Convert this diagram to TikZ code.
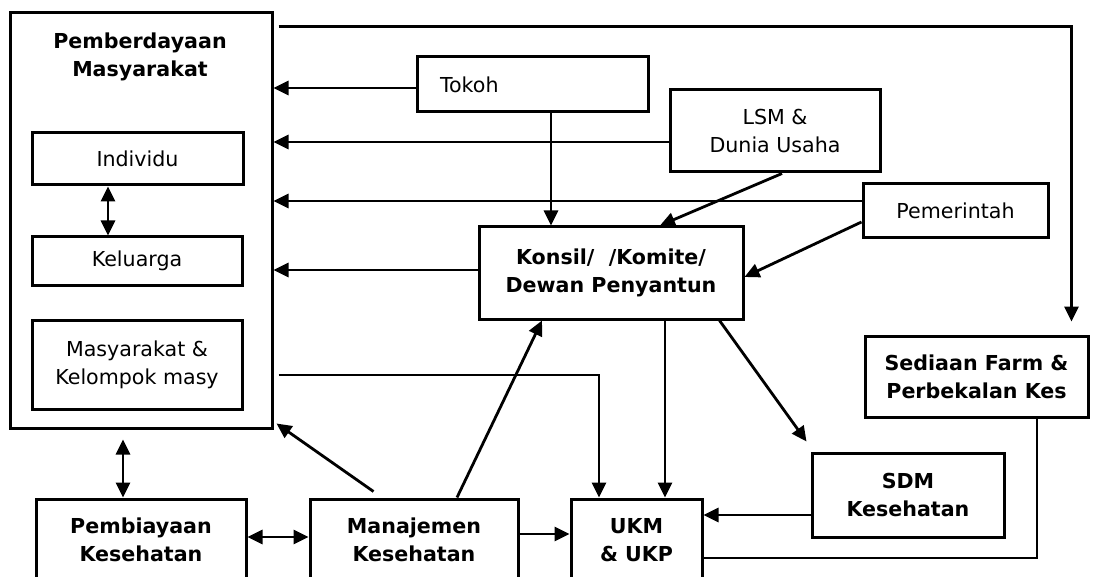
\documentclass[tikz,border=0pt]{standalone}
\usepackage{fontspec}
\setmainfont{DejaVu Sans}
\usetikzlibrary{arrows.meta}

\begin{document}
\begin{tikzpicture}[x=0.5pt,y=-0.5pt,
  box/.style={draw=drawColor,line width=1.5pt,inner sep=0pt,align=center,font=\fontsize{10.3}{14}\selectfont},
  boldbox/.style={box,font=\fontsize{10.3}{14}\selectfont\bfseries},
  link/.style={draw=drawColor,line width=1.4pt},
  arr/.style={link,-{Triangle[length=7.5pt,width=7pt]}},
  dblarr/.style={link,{Triangle[length=7.5pt,width=7pt]}-{Triangle[length=7.5pt,width=7pt]}}]
\definecolor{fillColor}{RGB}{255,255,255}
\definecolor{drawColor}{RGB}{0,0,0}
\path[use as bounding box,fill=fillColor] (0,0) rectangle (1097,577);
\begin{scope}
\path[clip] (0,0) rectangle (1097,577);

\node[box,minimum width=131pt,minimum height=207.5pt] (pm) at (141,220.5) {};
\node[font=\fontsize{10.3}{14}\selectfont\bfseries,align=center,inner sep=0pt] (pmtitle) at (140,57) {Pemberdayaan\\Masyarakat};
\node[box,minimum width=105.5pt,minimum height=26pt] (ind) at (137.5,159) {Individu};
\node[box,minimum width=105pt,minimum height=24pt] (kel) at (137,261) {Keluarga};
\node[box,minimum width=105pt,minimum height=44.5pt] (masy) at (137,364.5) {Masyarakat \&\\Kelompok masy};

\node[box,minimum height=27.5pt,text width=92.5pt,inner xsep=11.5pt,align=left] (tokoh) at (532.5,84.5) {Tokoh};
\node[box,minimum width=105pt,minimum height=41pt] (lsm) at (775,131) {LSM \&\\Dunia Usaha};
\node[box,minimum width=92.5pt,minimum height=27pt] (pem) at (955.5,211) {Pemerintah};
\node[boldbox,minimum width=132pt,minimum height=46pt] (konsil) at (611,273) {Konsil/ \ /Komite/\\Dewan Penyantun};
\node[boldbox,minimum width=111.5pt,minimum height=40.5pt] (sed) at (976.5,376.5) {Sediaan Farm \&\\Perbekalan Kes};
\node[boldbox,minimum width=96pt,minimum height=42pt] (sdm) at (908,495) {SDM\\Kesehatan};

\node[boldbox,minimum width=105pt,minimum height=41pt] (biaya) at (141,540) {Pembiayaan\\Kesehatan};
\node[boldbox,minimum width=104pt,minimum height=41pt] (manaj) at (414,540) {Manajemen\\Kesehatan};
\node[boldbox,minimum width=65.5pt,minimum height=41pt] (ukm) at (636.5,540) {UKM\\\& UKP};

\draw[arr,shorten <=2.5pt,shorten >=6.5pt] ([yshift=-7.5pt]pm.north east) -| ([xshift=-9pt]sed.north east);
\draw[arr] ([yshift=-1.75pt]tokoh.west) -- ([yshift=-1.75pt]tokoh.west -| pm.east);
\draw[arr] ([yshift=-5.5pt]lsm.west) -- ([yshift=-5.5pt]lsm.west -| pm.east);
\draw[arr] ([yshift=5pt]pem.west) -- ([yshift=5pt]pem.west -| pm.east);
\draw[arr] ([yshift=1.5pt]konsil.west) -- ([yshift=1.5pt]konsil.west -| pm.east);
\draw[dblarr] ([xshift=-14.75pt]ind.south) -- ([xshift=-14.5pt]kel.north);

\draw[arr] ([xshift=9.25pt]tokoh.south) -- ([xshift=9.25pt]tokoh.south |- konsil.north);
\draw[arr] ([xshift=3.5pt]lsm.south) -- ([xshift=24.5pt]konsil.north);
\draw[arr] ([yshift=-5.5pt]pem.west) -- ([yshift=-2pt]konsil.east);

\draw[arr,shorten <=2.5pt] ([yshift=-5.25pt]masy.east -| pm.east) -| ([xshift=-18.75pt]ukm.north);
\draw[arr] ([xshift=27pt]konsil.south) -- ([xshift=27pt]konsil.south |- ukm.north);
\draw[arr] ([xshift=-12.5pt]konsil.south east) -- ([shift={(-2pt,5pt)}]sdm.north west);
\draw[arr] ([xshift=21.5pt]manaj.north) -- ([xshift=-34.5pt]konsil.south);
\draw[arr] ([shift={(32.5pt,3pt)}]manaj.north west) -- ([shift={(1.5pt,3pt)}]pm.south east);

\draw[dblarr,shorten <=5pt] ([xshift=-9pt]pm.south) -- ([xshift=-9pt]biaya.north);
\draw[dblarr] ([yshift=1.5pt]biaya.east) -- ([yshift=1.5pt]biaya.east -| manaj.west);
\draw[arr] ([yshift=3pt]manaj.east) -- ([yshift=3pt]manaj.east -| ukm.west);
\draw[arr] ([yshift=-10pt]sdm.west) -- ([yshift=-10pt]sdm.west -| ukm.east);
\draw[link] ([xshift=30.25pt]sed.south) |- ([yshift=-9pt]ukm.east);
\end{scope}
\end{tikzpicture}
\end{document}
